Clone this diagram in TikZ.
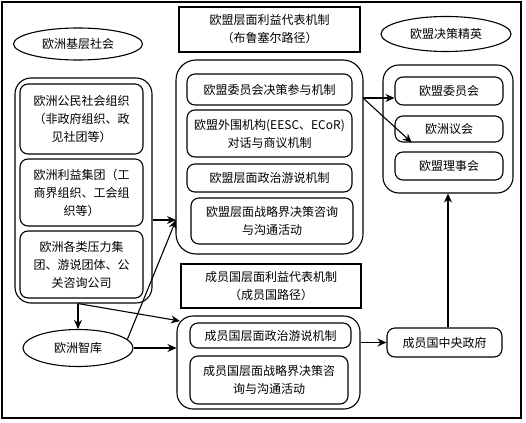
\documentclass[tikz,border=0pt]{standalone}
\usepackage{fontspec}
\newfontfamily\cjk{Noto Sans CJK SC}
\usetikzlibrary{shapes.geometric,arrows.meta}

\begin{document}
\begin{tikzpicture}[x=1pt, y=-1pt,
    every node/.style={font=\cjk\fontsize{12}{18}\selectfont, align=center, inner sep=0pt},
    sz/.style 2 args={minimum width=#1pt, minimum height=#2pt},
    ebox/.style={draw, line width=1.1pt, rounded corners=8pt},
    group/.style={draw, line width=1.1pt, rounded corners=16pt},
    titlebox/.style={draw, line width=1.1pt},
    elite/.style={draw, ellipse, line width=1.1pt},
    arr/.style={-{Stealth[length=9pt,width=8pt]}, line width=1.1pt}]
    \useasboundingbox (0,0) rectangle (526,422);

    % Frame
    \draw[line width=1.3pt] (2,2) rectangle (521,418);

    % Ellipses
    \node[elite, sz={129}{32}] (base) at (78,44) {欧洲基层社会};
    \node[elite, sz={130}{35}] (elites) at (446,34) {欧盟决策精英};
    \node[elite, sz={110}{37}] (tank) at (78,348) {欧洲智库};

    % Titles
    \node[titlebox, sz={181}{45}] (euTitle) at (269.5,29.5) {欧盟层面利益代表机制\\（布鲁塞尔路径）};
    \node[titlebox, sz={180}{44}] (msTitle) at (271,286) {成员国层面利益代表机制\\（成员国路径）};

    % European society
    \node[group, sz={137}{225}] (lgroup) at (83.5,190.5) {};
    \node[ebox, sz={123}{70}] (l1) at (81.5,119) {欧洲公民社会组织\\（非政府组织、政\\见社团等）};
    \node[ebox, sz={123}{67}] (l2) at (81.5,192.5) {欧洲利益集团（工\\商界组织、工会组\\织等）};
    \node[ebox, sz={123}{67}] (l3) at (81.5,264.5) {欧洲各类压力集\\团、游说团体、公\\关咨询公司};

    % Brussels route
    \node[group, rounded corners=20pt, sz={187}{194}] (mgroup) at (269.5,157) {};
    \node[ebox, sz={165}{31}] (m1) at (269.5,89.5) {欧盟委员会决策参与机制};
    \node[ebox, sz={165}{47}] (m2) at (269.5,133.5) {欧盟外围机构(EESC、ECoR)\\对话与商议机制};
    \node[ebox, sz={165}{28}] (m3) at (269.5,178) {欧盟层面政治游说机制};
    \node[ebox, sz={162}{46}] (m4) at (272,221) {欧盟层面战略界决策咨询\\与沟通活动};

    % EU institutions
    \node[group, sz={130}{128}] (rgroup) at (448,129) {};
    \node[ebox, sz={108}{28}] (r1) at (449,91) {欧盟委员会};
    \node[ebox, sz={108}{26}] (r2) at (449,129) {欧洲议会};
    \node[ebox, sz={108}{28}] (r3) at (449,166) {欧盟理事会};

    % Member state route
    \node[group, sz={183}{93}] (sgroup) at (268.5,362.5) {};
    \node[ebox, sz={161}{25}] (s1) at (270.5,335.5) {成员国层面政治游说机制};
    \node[ebox, sz={158}{48}] (s2) at (269,380) {成员国层面战略界决策咨\\询与沟通活动};
    \node[ebox, sz={115}{29}] (gov) at (444.5,342.5) {成员国中央政府};

    % Arrows
    \coordinate (mIn) at (176,220);
    \coordinate (sIn) at (180,321);
    \coordinate (mOut) at (363,98);
    \draw[arr] (lgroup.east |- mIn) -- (mIn);
    \draw[arr] (tank.10) -- (mIn);
    \draw[arr] (lgroup.south -| tank.north) -- (tank.north);
    \draw[arr] (lgroup.south -| tank.north) -- (sIn);
    \draw[arr] (tank.east) -- (sgroup.west |- tank.east);
    \draw[arr] (mOut) -- (r1.west |- mOut);
    \draw[arr] (mOut) -- (r2.200);
    \draw[arr] (sgroup.east |- gov.west) -- (gov.west);
    \draw[arr] (rgroup.south |- gov.north) -- (rgroup.south);
\end{tikzpicture}
\end{document}
